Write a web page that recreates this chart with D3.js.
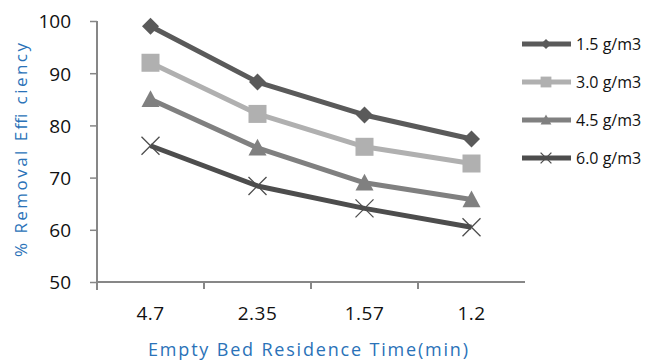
<!DOCTYPE html>
<html>
<head>
<meta charset="utf-8">
<script src="https://cdn.jsdelivr.net/npm/d3@7"></script>
<style>
  html, body { margin: 0; padding: 0; background: #fff; }
  svg { display: block; }
  text { font-family: "Open Sans", "Liberation Sans", sans-serif; }
</style>
</head>
<body>
<svg id="chart" width="648" height="360"></svg>
<script>
// Empty bed residence time categories (min)
const categories = ["4.7", "2.35", "1.57", "1.2"];
// Removal efficiency (%) per inlet concentration
const seriesNames = ["1.5 g/m3", "3.0 g/m3", "4.5 g/m3", "6.0 g/m3"];
const s15 = [99, 88.3, 82, 77.4];
const s30 = [92, 82.2, 75.9, 72.7];
const s45 = [85, 75.7, 69, 65.8];
const s60 = [76.1, 68.4, 64.1, 60.5];
const yTicks = [50, 60, 70, 80, 90, 100];

const series = [
  { name: seriesNames[0], values: s15, color: "#5a5a5a", marker: "diamond" },
  { name: seriesNames[1], values: s30, color: "#b0b0b0", marker: "square" },
  { name: seriesNames[2], values: s45, color: "#808080", marker: "triangle" },
  { name: seriesNames[3], values: s60, color: "#4d4d4d", marker: "cross" }
];

const svg = d3.select("#chart");
const plot = { left: 97, right: 525, top: 21, bottom: 282 };
const axisColor = "#878787";

const x = d3.scaleBand().domain(categories).range([plot.left, plot.right]).padding(0);
const y = d3.scaleLinear().domain([50, 100]).range([plot.bottom, plot.top]);

// Y axis
const yAxis = svg.append("g").attr("transform", `translate(${plot.left},0)`)
  .call(d3.axisLeft(y).tickValues(yTicks).tickSize(7).tickPadding(19).tickFormat(d3.format("d")));
yAxis.select(".domain").attr("d", `M0,${plot.top}V${plot.bottom + 8}`)
  .attr("stroke", axisColor).attr("stroke-width", 2);
yAxis.selectAll(".tick line").attr("stroke", axisColor).attr("stroke-width", 1.5);
yAxis.selectAll(".tick text").attr("fill", "#111").style("font-size", "19px")
  .attr("dy", "0.36em");

// X axis
const xAxis = svg.append("g").attr("transform", `translate(0,${plot.bottom})`)
  .call(d3.axisBottom(x).tickSize(0).tickPadding(25));
xAxis.select(".domain").attr("d", `M${plot.left},0H${plot.right}`)
  .attr("stroke", axisColor).attr("stroke-width", 2);
xAxis.selectAll(".tick text").attr("fill", "#111").style("font-size", "19px")
  .style("letter-spacing", "0.5px");
// Category boundary ticks
xAxis.selectAll(".bound").data(categories.slice(1)).enter().append("line")
  .attr("x1", d => x(d)).attr("x2", d => x(d))
  .attr("y1", 0).attr("y2", 7)
  .attr("stroke", axisColor).attr("stroke-width", 2);

// Axis titles
svg.append("text")
  .attr("x", 308).attr("y", 356)
  .attr("text-anchor", "middle")
  .attr("textLength", 320).attr("lengthAdjust", "spacing")
  .attr("fill", "#2a72b8").style("font-size", "18px")
  .text("Empty Bed Residence Time(min)");
svg.append("text")
  .attr("transform", "translate(27,150) rotate(-90)")
  .attr("text-anchor", "middle")
  .attr("textLength", 214).attr("lengthAdjust", "spacing")
  .attr("fill", "#2a72b8").style("font-size", "17px")
  .text("% Removal Effi ciency");

const cx = d => x(d) + x.bandwidth() / 2;

function drawMarker(g, type, color, px, py, scale) {
  const s = scale || 1;
  if (type === "diamond") {
    const r = 8.5 * s;
    g.append("path").attr("d", `M${px},${py - r}L${px + r},${py}L${px},${py + r}L${px - r},${py}Z`)
      .attr("fill", color);
  } else if (type === "square") {
    const h = 9 * s;
    g.append("rect").attr("x", px - h).attr("y", py - h).attr("width", 2 * h).attr("height", 2 * h)
      .attr("fill", color);
  } else if (type === "triangle") {
    const h = 9 * s;
    g.append("path").attr("d", `M${px},${py - h}L${px + h},${py + h * 0.85}L${px - h},${py + h * 0.85}Z`)
      .attr("fill", color);
  } else if (type === "cross") {
    const h = 9 * s;
    g.append("path").attr("d", `M${px - h},${py - h}L${px + h},${py + h}M${px - h},${py + h}L${px + h},${py - h}`)
      .attr("stroke", color).attr("stroke-width", 1.3).attr("fill", "none");
  }
}

const line = d3.line().x((d, i) => cx(categories[i])).y(d => y(d));

series.forEach(s => {
  const g = svg.append("g");
  g.append("path").datum(s.values).attr("d", line)
    .attr("fill", "none").attr("stroke", s.color).attr("stroke-width", 5)
    .attr("stroke-linejoin", "round");
  s.values.forEach((v, i) => drawMarker(g, s.marker, s.color, cx(categories[i]), y(v)));
});

// Legend
const legendY = d3.scalePoint().domain(seriesNames).range([44, 158]);
const legend = svg.append("g");
series.forEach(s => {
  const ly = legendY(s.name);
  legend.append("line").attr("x1", 522).attr("x2", 571).attr("y1", ly).attr("y2", ly)
    .attr("stroke", s.color).attr("stroke-width", 5);
  drawMarker(legend, s.marker, s.color, 546, ly, 0.6);
  legend.append("text").attr("x", 576).attr("y", ly).attr("dy", "0.35em")
    .attr("fill", "#111").style("font-size", "16px").text(s.name);
});
</script>
</body>
</html>
